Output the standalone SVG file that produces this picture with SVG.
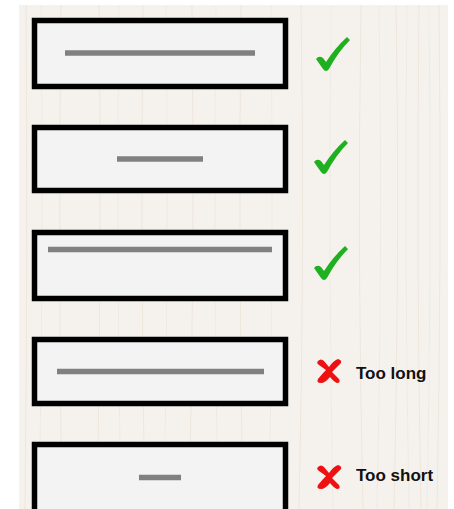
<svg xmlns="http://www.w3.org/2000/svg" width="454" height="509" viewBox="0 0 454 509">
<defs>
<style>
.box{fill:#f3f3f3;stroke:#000;stroke-width:5.5}
.bar{stroke:#808080;stroke-width:5.5}
.chk{fill:#1fb01f}
.crs{fill:#ee1111}
.lbl{font-family:"Liberation Sans",Arial,sans-serif;font-weight:bold;font-size:17px;fill:#111}
.grain{stroke:#eadbcc;stroke-width:1;fill:none;opacity:0.55}
.grain2{stroke:#e2dad2;stroke-width:0.8;fill:none;opacity:0.45}
</style>
<path id="check" d="M0,22 Q3,18 7,21 L10,25 Q19,11 31,0 L34,3 Q22,15 13,32 Q10,36 7,32 Z"/>
<path id="cross" d="M2,2 Q5,-1 8,2 L13,8 Q18,1 22,0 Q26,1 25,4 Q20,9 16,13 L23,20 Q25,24 21,24 Q18,23 14,18 Q9,24 5,24 Q0,24 2,20 Q6,15 10,11 L3,6 Q0,4 2,2 Z"/>
</defs>
<rect width="454" height="509" fill="#ffffff"/>
<rect x="19" y="5" width="429" height="504" fill="#f5f2ee"/>
<g id="grain">
<path class="grain" d="M26,5 Q28,250 25,509 M61,5 Q58,260 62,509 M99,5 Q102,240 97,509 M143,5 Q140,250 145,509 M192,5 Q195,260 189,509 M241,5 Q238,250 243,509 M301,5 Q305,250 299,509 M361,5 Q357,260 363,509 M396,5 Q400,240 394,509 M419,5 Q416,260 421,509 M439,5 Q442,250 437,509"/>
<path class="grain2" d="M41,5 Q44,250 39,509 M119,5 Q116,250 121,509 M166,5 Q169,260 164,509 M216,5 Q213,250 218,509 M271,5 Q274,250 269,509 M331,5 Q328,260 333,509 M379,5 Q383,250 377,509 M407,5 Q404,250 409,509 M429,5 Q432,260 427,509"/>
</g>
<g id="node1"><rect class="box" x="34.5" y="20.5" width="251" height="66"/><line class="bar" x1="65" y1="53" x2="255" y2="53"/></g>
<g id="node2"><rect class="box" x="34.5" y="127.5" width="251" height="63"/><line class="bar" x1="117" y1="159" x2="203" y2="159"/></g>
<g id="node3"><rect class="box" x="34.5" y="232.5" width="251" height="66"/><line class="bar" x1="48" y1="249.5" x2="272" y2="249.5"/></g>
<g id="node4"><rect class="box" x="34.5" y="339.5" width="251" height="64"/><line class="bar" x1="57" y1="371.5" x2="264" y2="371.5"/></g>
<g id="node5"><rect class="box" x="34.5" y="444.5" width="251" height="70"/><line class="bar" x1="139" y1="477.5" x2="181" y2="477.5"/></g>
<g id="marks">
<use href="#check" class="chk" x="316" y="37"/>
<use href="#check" class="chk" x="314" y="140"/>
<use href="#check" class="chk" x="314" y="246"/>
<use href="#cross" class="crs" x="316" y="359"/>
<use href="#cross" class="crs" x="316" y="465"/>
</g>
<g id="labels">
<text class="lbl" x="356" y="379">Too long</text>
<text class="lbl" x="356" y="481">Too short</text>
</g>
<g id="connectors"/>
</svg>
